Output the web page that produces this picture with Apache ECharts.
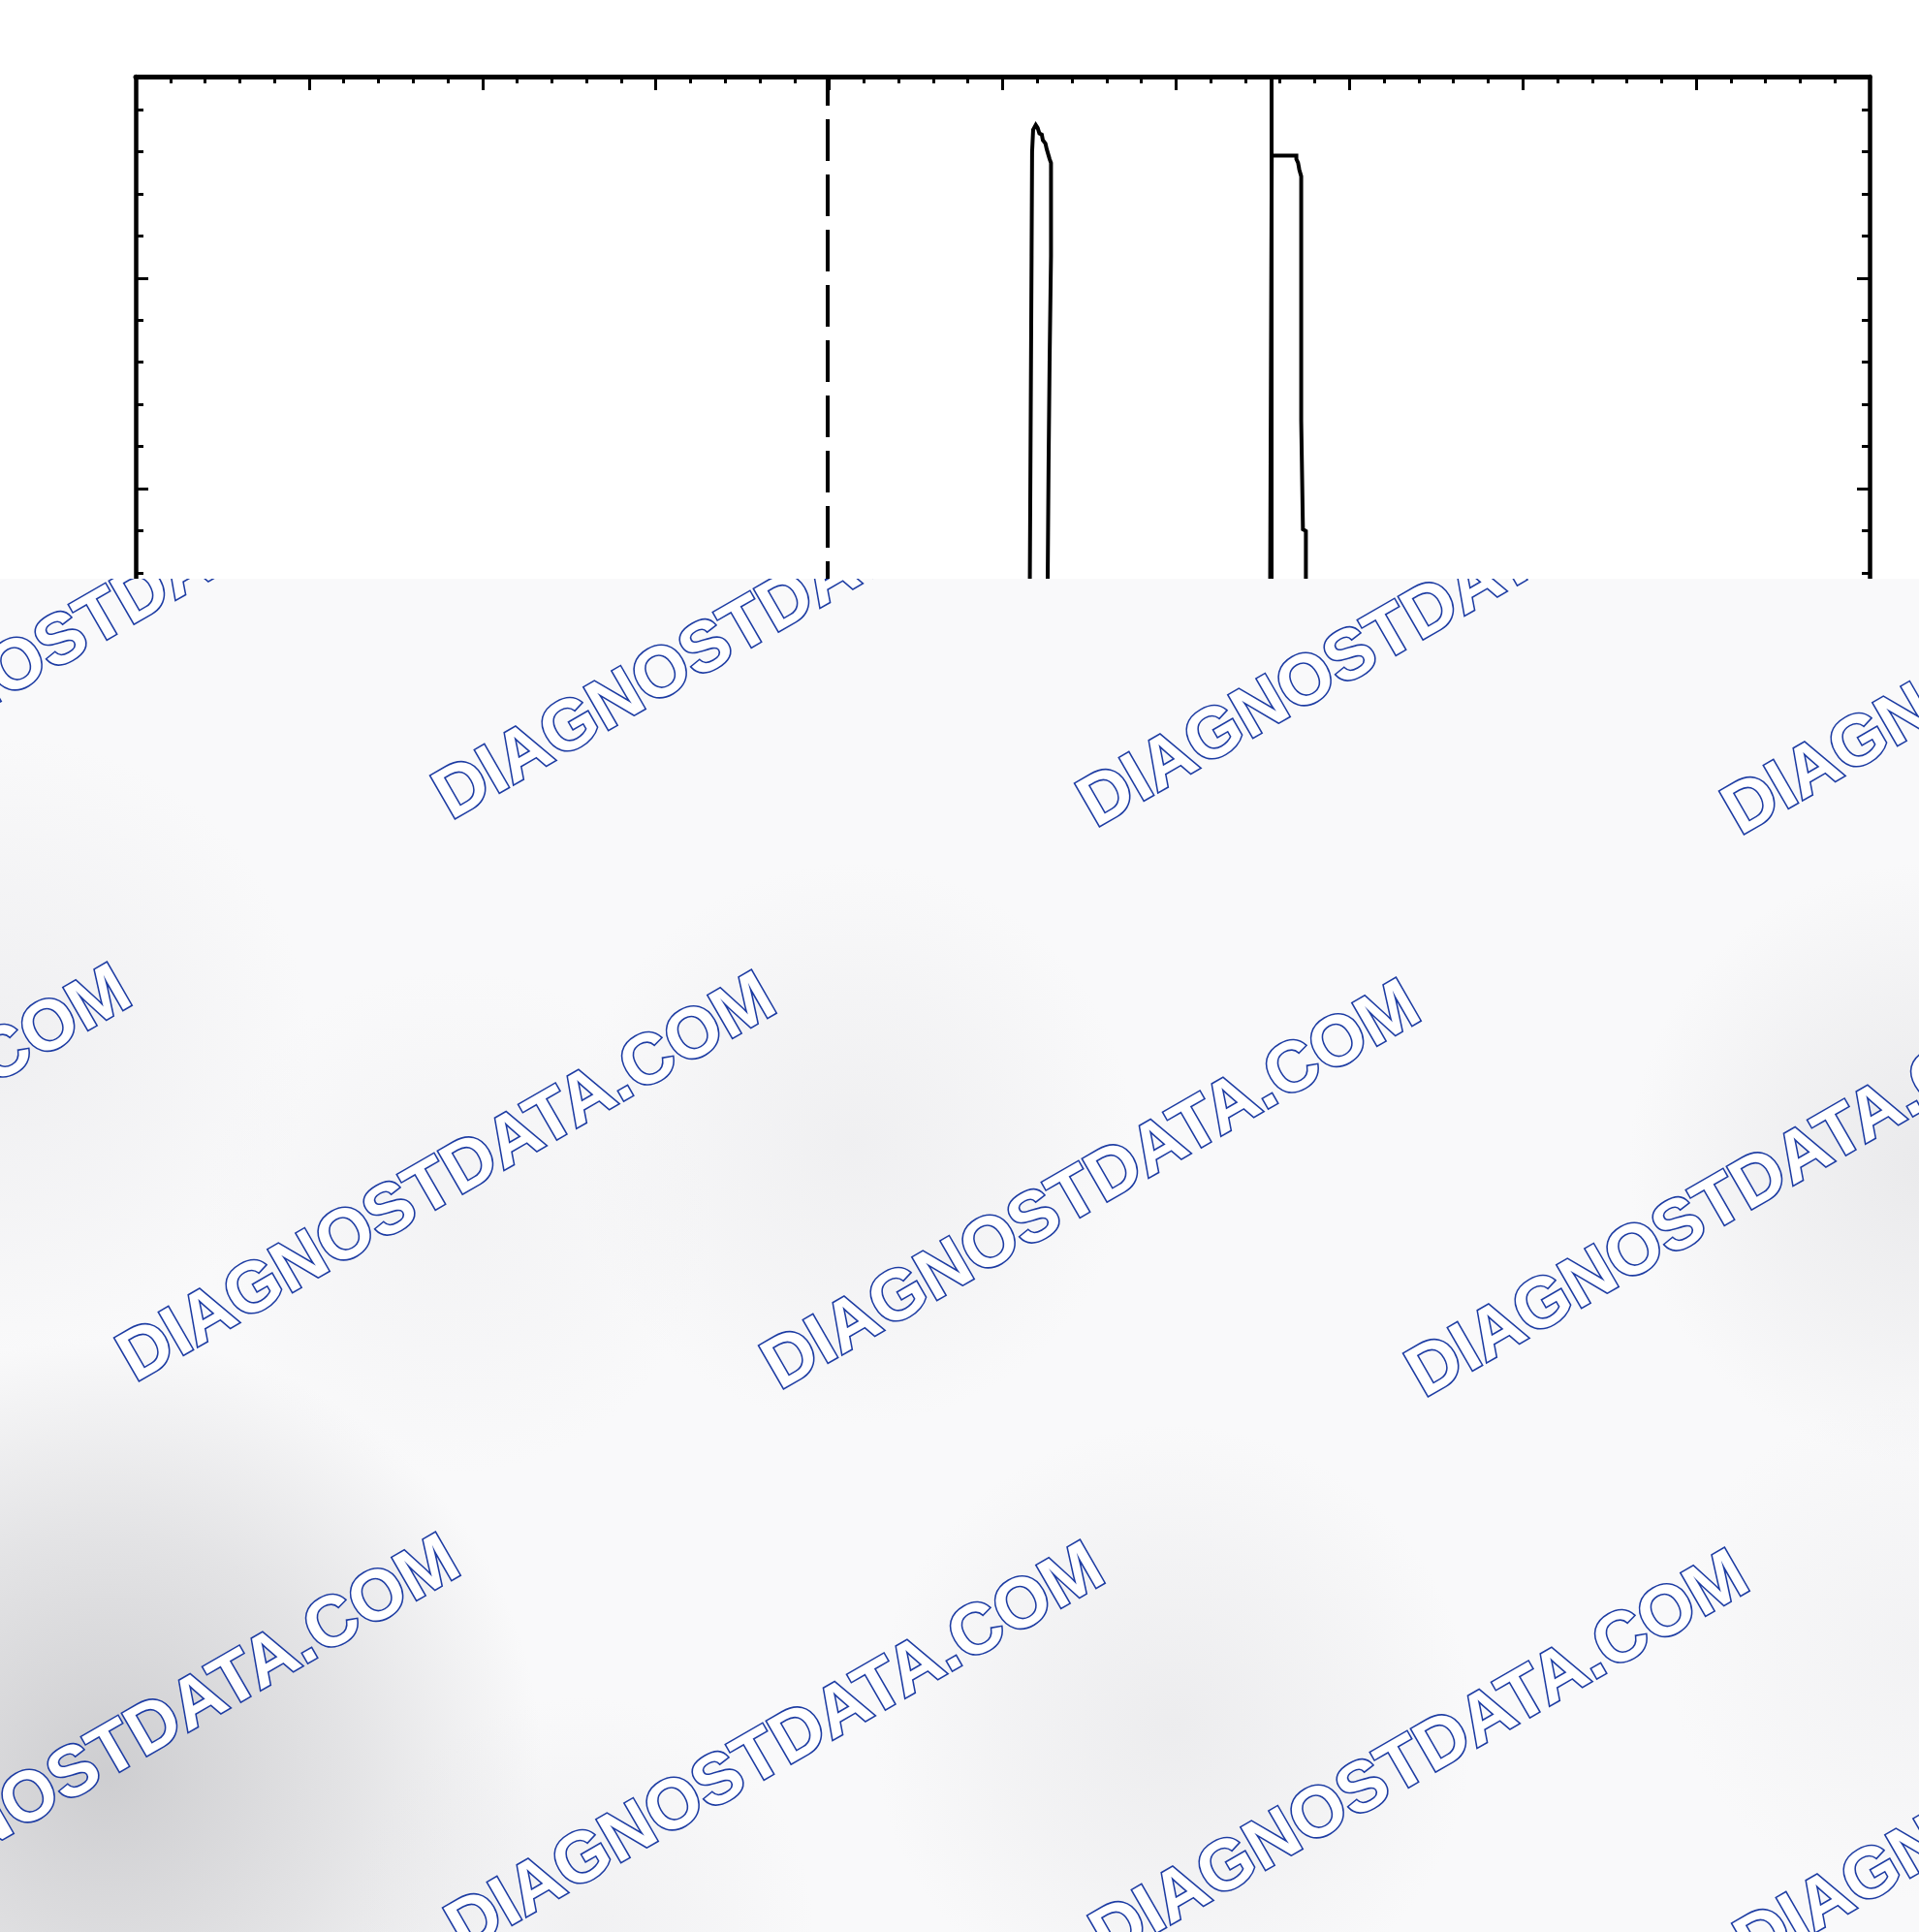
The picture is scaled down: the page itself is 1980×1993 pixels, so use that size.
<!DOCTYPE html>
<html>
<head>
<meta charset="utf-8">
<script src="https://cdn.jsdelivr.net/npm/echarts@6/dist/echarts.min.js"></script>
<style>
html,body{margin:0;padding:0;background:#ffffff;}
#chart{width:1980px;height:1993px;}
</style>
</head>
<body>
<div id="chart"></div>
<script>
// ---- data (x in horizontal divisions, y in vertical divisions) ----
const traceX = [0, 5.155, 5.157, 5.167, 5.170, 5.176, 5.191, 5.202, 5.212, 5.226, 5.232, 5.247, 5.254, 5.265, 5.271, 5.279,
                5.279, 5.271, 5.265, 5.260, 5.259, 6.541, 6.543, 6.552, 6.565, 6.694, 6.694, 6.704, 6.711, 6.722,
                6.722, 6.732, 6.732, 6.749, 6.749, 6.750, 10];
const traceY = [1.0, 1.0, 2.88, 10.53, 13.00, 13.53, 13.64, 13.57, 13.44, 13.41, 13.28, 13.20, 13.07, 13.04, 12.83, 12.74,
                10.53, 8.06, 5.58, 2.88, 1.0, 1.0, 2.88, 12.91, 12.91, 12.91, 12.83, 12.74, 12.58, 12.42,
                6.61, 6.57, 4.03, 3.99, 2.88, 1.0, 1.0];
const dashedCursorX = 3.99;
const solidCursorX = 6.548;
const xRange = [0, 10];
const yRange = [0, 14.79];
const watermarkText = 'DIAGNOSTDATA.COM';
const watermarkCols = [-2, -1, 0, 1, 2, 3];
const watermarkRows = [-1, 0, 1];

// ---- layout / decoration constants ----
const WM_ORIGIN = [462, 1216.8];
const WM_COL = [665, 8];
const WM_ROW = [-326, 580];
const OVERLAY_TOP = 597;
// [cx, cy, r, grey, alpha]
const BLOBS = [
  [110, 1830, 450, 198, 0.85],
  [0, 1080, 320, 228, 0.45],
  [880, 1180, 290, 222, 0.35],
  [1990, 1200, 310, 215, 0.45],
  [1210, 1780, 310, 218, 0.40],
  [470, 1260, 260, 226, 0.25],
  [1980, 1700, 260, 226, 0.30],
  [600, 1990, 240, 222, 0.30]
];

const chart = echarts.init(document.getElementById('chart'), null, {renderer: 'canvas'});

function renderOverlay(params, api) {
  const cs = params.coordSys;
  const children = [];
  children.push({type: 'rect', shape: {x: cs.x, y: cs.y, width: cs.width, height: cs.height},
                 style: {fill: '#f9f9fa'}});
  BLOBS.forEach(function (b) {
    const g = b[3];
    const c = 'rgba(' + g + ',' + g + ',' + (g + 3) + ',';
    children.push({type: 'circle', shape: {cx: b[0], cy: b[1], r: b[2]},
      style: {fill: new echarts.graphic.RadialGradient(0.5, 0.5, 0.5, [
        {offset: 0, color: c + b[4] + ')'},
        {offset: 0.55, color: c + (b[4] * 0.5) + ')'},
        {offset: 1, color: c + '0)'}])}});
  });
  watermarkRows.forEach(function (j) {
    watermarkCols.forEach(function (i) {
      const cx = WM_ORIGIN[0] + i * WM_COL[0] + j * WM_ROW[0];
      const cy = WM_ORIGIN[1] + i * WM_COL[1] + j * WM_ROW[1];
      children.push({type: 'text', x: cx, y: cy, rotation: Math.PI / 6,
        style: {text: watermarkText, fill: '#ffffff', stroke: '#1d3ca3', lineWidth: 3.2,
                font: 'bold 73px "Liberation Sans", Arial, sans-serif',
                align: 'center', verticalAlign: 'middle',
                textAlign: 'center', textVerticalAlign: 'middle'}});
    });
  });
  return {type: 'group', children: children};
}

const black = '#000000';
function xAx(opts) {
  return Object.assign({
    type: 'value', gridIndex: 0, min: xRange[0], max: xRange[1],
    axisLine: {show: false, onZero: false, lineStyle: {color: black, width: 5}},
    axisTick: {show: true, inside: true, length: 7, lineStyle: {color: black, width: 3}},
    axisLabel: {show: false}, splitLine: {show: false}
  }, opts);
}
function yAx(opts) {
  return Object.assign({
    type: 'value', gridIndex: 0, min: yRange[0], max: yRange[1],
    axisLine: {show: false, onZero: false, lineStyle: {color: black, width: 4}},
    axisTick: {show: true, inside: true, length: 8, lineStyle: {color: black, width: 3}},
    axisLabel: {show: false}, splitLine: {show: false}
  }, opts);
}

const option = {
  backgroundColor: '#ffffff',
  animation: false,
  grid: [
    {left: 140, top: 79, width: 1789, height: 642, show: false},
    {left: 0, top: OVERLAY_TOP, width: 1980, height: 1993 - OVERLAY_TOP, show: false}
  ],
  xAxis: [
    xAx({position: 'top', interval: 1,
         axisLine: {show: true, onZero: false, lineStyle: {color: black, width: 5}},
         axisTick: {show: true, inside: true, length: 14, lineStyle: {color: black, width: 3}}}),
    xAx({position: 'top', interval: 0.2}),
    xAx({position: 'bottom', interval: 1,
         axisLine: {show: true, onZero: false, lineStyle: {color: black, width: 4}}}),
    {type: 'value', gridIndex: 1, min: 0, max: 1, show: false}
  ],
  yAxis: [
    yAx({position: 'left', interval: 5,
         axisLine: {show: true, onZero: false, lineStyle: {color: black, width: 4.5}},
         axisTick: {show: true, inside: true, length: 13, lineStyle: {color: black, width: 3}}}),
    yAx({position: 'left', interval: 1}),
    yAx({position: 'right', interval: 5,
         axisLine: {show: true, onZero: false, lineStyle: {color: black, width: 4.5}},
         axisTick: {show: true, inside: true, length: 13, lineStyle: {color: black, width: 3}}}),
    yAx({position: 'right', interval: 1}),
    {type: 'value', gridIndex: 1, min: 0, max: 1, show: false}
  ],
  series: [
    {
      type: 'line', xAxisIndex: 0, yAxisIndex: 0,
      data: traceX.map(function (x, k) { return [x, traceY[k]]; }),
      showSymbol: false, symbol: 'none', clip: true, z: 3,
      lineStyle: {color: black, width: 4, join: 'miter'},
      markLine: {
        silent: true, symbol: ['none', 'none'], label: {show: false}, animation: false,
        data: [
          {xAxis: dashedCursorX, lineStyle: {color: black, width: 4, type: [43, 14], dashOffset: 15}},
          {xAxis: solidCursorX, lineStyle: {color: black, width: 4, type: 'solid'}}
        ]
      }
    },
    {
      type: 'custom', xAxisIndex: 3, yAxisIndex: 4, clip: true, z: 20, silent: true,
      data: [[0.5, 0.5]],
      renderItem: renderOverlay
    }
  ]
};
chart.setOption(option);
</script>
</body>
</html>
